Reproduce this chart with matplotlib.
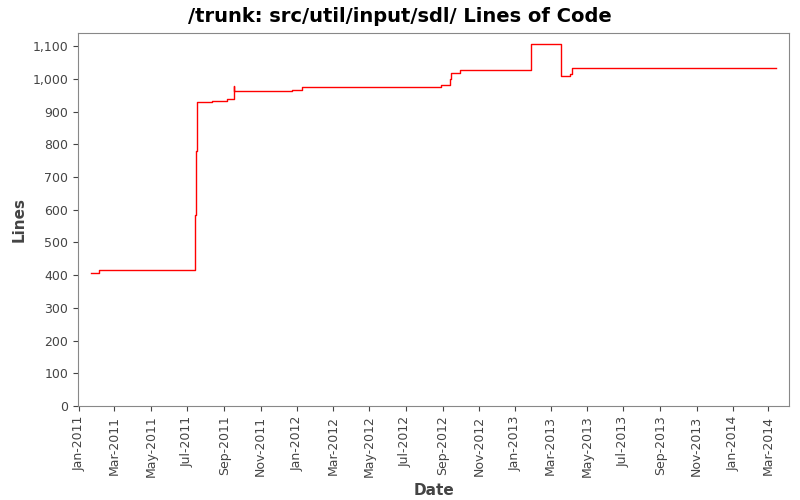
import matplotlib
matplotlib.use("Agg")
import matplotlib.pyplot as plt
import matplotlib.dates as mdates
from matplotlib.ticker import FuncFormatter
import pandas as pd

dates = ["2011-01-21","2011-02-03","2011-07-14","2011-07-15","2011-07-17","2011-08-11",
         "2011-09-05","2011-09-17","2011-09-18","2011-12-24","2012-01-10","2012-08-29",
         "2012-09-13","2012-09-16","2012-10-01","2013-01-27","2013-03-18","2013-04-02",
         "2013-04-06","2014-03-14"]
lines = [405,415,585,778,928,931,939,978,963,967,974,980,998,1017,1026,1105,1010,1014,1032,1032]

x = pd.to_datetime(dates)
fig = plt.figure(figsize=(8,5), dpi=100)
ax = fig.add_axes([0.0975, 0.188, 0.889, 0.746])
ax.step(x, lines, where="post", color="red", lw=1)
ax.set_ylim(0, 1140)
ax.set_xlim(pd.Timestamp("2010-12-30"), pd.Timestamp("2014-04-05"))
ax.set_yticks(range(0, 1101, 100))
ax.yaxis.set_major_formatter(FuncFormatter(lambda v, p: f"{int(v):,}"))
ax.xaxis.set_major_locator(mdates.MonthLocator(bymonth=[1,3,5,7,9,11]))
ax.xaxis.set_major_formatter(mdates.DateFormatter("%b-%Y"))
plt.setp(ax.get_xticklabels(), rotation=90)
ax.tick_params(labelsize=9, colors="#444444")
for s in ax.spines.values():
    s.set_color("#888888")
ax.set_xlabel("Date", fontsize=11, fontweight="bold", color="#444444")
ax.set_ylabel("Lines", fontsize=11, fontweight="bold", color="#444444")
fig.suptitle("/trunk: src/util/input/sdl/ Lines of Code", fontsize=14, fontweight="bold", y=0.985)
fig.savefig("out.png")
